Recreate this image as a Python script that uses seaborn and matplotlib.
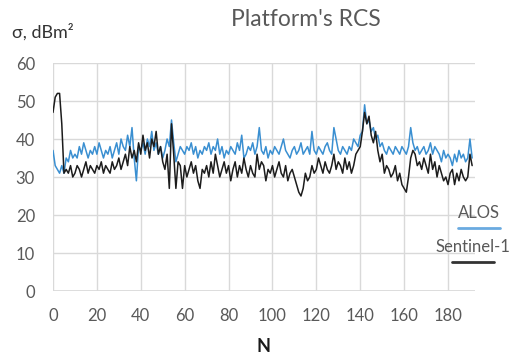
import numpy as np
import pandas as pd
import matplotlib
matplotlib.use("Agg")
import matplotlib.pyplot as plt
import seaborn as sns
from matplotlib.lines import Line2D

# RCS samples (dBm^2) for each platform, indexed by N = 0..191
alos = [
    37, 33, 32, 31, 33, 31, 35, 34, 37, 35,
    36, 35, 38, 36, 39, 37, 35, 37, 36, 38,
    36, 39, 37, 35, 37, 36, 38, 35, 37, 39,
    36, 40, 38, 37, 41, 38, 43, 35, 29, 38,
    37, 39, 36, 40, 38, 42, 37, 39, 36, 38,
    35, 37, 40, 38, 45, 39, 34, 36, 38, 37,
    36, 38, 37, 39, 36, 38, 35, 37, 36, 38,
    37, 39, 36, 38, 37, 40, 36, 38, 35, 37,
    36, 38, 37, 36, 39, 37, 41, 35, 36, 38,
    37, 39, 36, 38, 43, 37, 36, 38, 35, 37,
    36, 38, 37, 36, 38, 40, 37, 36, 35, 37,
    38, 36, 37, 39, 36, 37, 38, 36, 42, 37,
    36, 38, 37, 36, 38, 39, 37, 36, 43, 40,
    37, 36, 38, 37, 36, 38, 37, 40, 39, 38,
    41, 42, 49, 44, 45, 42, 43, 40, 41, 38,
    39, 37, 36, 38, 37, 36, 38, 37, 36, 38,
    37, 36, 38, 43, 39, 37, 38, 36, 37, 38,
    36, 37, 39, 36, 38, 37, 36, 34, 37, 35,
    36, 35, 33, 36, 34, 37, 35, 36, 34, 35,
    40, 35,
]

sentinel1 = [
    47, 51, 52, 52, 44, 31, 32, 31, 33, 30,
    31, 33, 32, 30, 32, 34, 31, 33, 32, 31,
    33, 32, 34, 31, 33, 32, 31, 34, 32, 33,
    35, 32, 34, 36, 33, 38, 35, 37, 34, 39,
    36, 41, 37, 39, 35, 40, 38, 42, 36, 38,
    34, 32, 36, 27, 44, 36, 27, 34, 33, 27,
    33, 30, 32, 34, 31, 33, 29, 27, 32, 31,
    33, 30, 34, 31, 36, 33, 30, 32, 34, 31,
    33, 29, 32, 34, 30, 33, 31, 35, 32, 30,
    33, 31, 30, 36, 32, 34, 33, 29, 32, 31,
    33, 30, 32, 34, 31, 30, 33, 29, 31, 32,
    30, 28, 26, 25, 27, 31, 29, 30, 33, 31,
    32, 35, 33, 31, 34, 32, 31, 33, 36, 32,
    34, 33, 31, 35, 32, 34, 31, 33, 36, 37,
    38, 42, 47, 44, 46, 41, 39, 42, 37, 34,
    36, 31, 33, 32, 30, 31, 33, 29, 31, 28,
    27, 26, 30, 35, 37, 36, 33, 34, 32, 35,
    33, 31, 36, 32, 34, 30, 33, 31, 29, 30,
    28, 31, 32, 28, 31, 29, 32, 30, 29, 30,
    36, 33,
]

series_names = ["ALOS", "Sentinel-1"]
series_colors = ["#3a8fd1", "#1c1c1c"]
legend_colors = ["#6aaae0", "#333333"]
x_ticks = list(range(0, 181, 20))
y_ticks = list(range(0, 61, 10))

n = np.arange(len(alos))
df = pd.DataFrame({
    "N": np.concatenate([n, n]),
    "rcs": np.concatenate([alos, sentinel1]),
    "platform": [series_names[0]] * len(alos) + [series_names[1]] * len(sentinel1),
})

sns.set_theme(style="white")
plt.rcParams["font.family"] = ["Lato", "DejaVu Sans"]

fig = plt.figure(figsize=(5.22, 3.58), dpi=100)
ax = fig.add_axes([53 / 522, 1 - 291 / 358, (475 - 53) / 522, (291 - 63) / 358])

sns.lineplot(data=df, x="N", y="rcs", hue="platform",
             palette=dict(zip(series_names, series_colors)),
             linewidth=1.1, ax=ax, legend=False)

grid_c = "#d9d9d9"
text_c = "#595959"
ax.set_xlim(0, 192.3)
ax.set_ylim(0, 60)
ax.set_xticks(x_ticks)
ax.set_yticks(y_ticks)
ax.grid(True, color=grid_c, linewidth=1)
for s in ax.spines.values():
    s.set_visible(False)
ax.axhline(0, color=grid_c, linewidth=1.2, zorder=0)
ax.tick_params(axis="both", length=0, labelsize=12, labelcolor=text_c)
ax.tick_params(axis="y", pad=13)
ax.tick_params(axis="x", pad=12)
ax.set_xlabel("N", fontsize=13, fontweight="bold", color="#1a1a1a", labelpad=10)
ax.set_ylabel("")

fig.text(306 / 522, 1 - 20 / 358, "Platform's RCS", ha="center", va="center",
         fontsize=16.5, color=text_c)
fig.text(12 / 522, 1 - 32 / 358, "σ, dBm²", ha="left", va="center",
         fontsize=13, color="#333333")

# legend: label above a short line sample
legend_items = [(479, 213, 228), (473, 247, 262)]
for (cx, ty, ly), name, col in zip(legend_items, series_names, legend_colors):
    fig.text(cx / 522, 1 - ty / 358, name, ha="center", va="center",
             fontsize=12, color=text_c)
    fig.add_artist(Line2D([(cx - 21) / 522, (cx + 21) / 522],
                          [1 - ly / 358, 1 - ly / 358],
                          color=col, linewidth=2, transform=fig.transFigure))

fig.savefig("out.png", dpi=100)
